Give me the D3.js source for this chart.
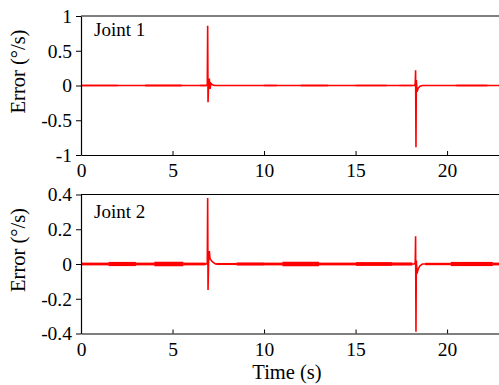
<html>
<head>
  <meta charset="utf-8" />
  <script src="https://cdnjs.cloudflare.com/ajax/libs/d3/7.8.5/d3.min.js"></script>
  <style>
    body { margin: 0; background: #fff; }
    text { font-family: "Liberation Serif", "Times New Roman", serif; fill: #000; }
    .domain { stroke: #000; stroke-width: 1.2; }
    .tick line { stroke: #000; }
  </style>
</head>
<body>
  <svg></svg>
  <script>
    // x ticks shared by both panels
    var timeTicks = [0, 5, 10, 15, 20]

    // joint 1 : error signal around the two transients (t in s, error in deg/s)
    var joint1Signal = [
      [0, 0], [6.86, 0], [6.90, 0.02], [6.92, 0.86], [6.94, -0.24], [6.97, 0.02],
      [7.01, 0.10], [7.05, -0.05], [7.10, 0.03], [7.18, 0.01], [7.3, 0],
      [18.22, 0], [18.26, 0.03], [18.28, 0.22], [18.30, -0.89], [18.32, 0.08],
      [18.36, -0.09], [18.42, -0.04], [18.52, -0.01], [18.65, 0], [23, 0]
    ]
    // joint 1 : noise envelope [from, to, half amplitude]
    var joint1Noise = [
      [0, 2, 0.011], [2, 3.5, 0.005], [3.5, 5.5, 0.013], [5.5, 6.5, 0.005],
      [6.5, 6.85, 0.011], [7.3, 10, 0.004], [10, 10.7, 0.011], [10.7, 12, 0.005],
      [12, 13.5, 0.012], [13.5, 15, 0.005], [15, 16.7, 0.011], [16.7, 17.4, 0.005],
      [17.4, 18.1, 0.010], [18.8, 20.5, 0.004], [20.5, 22.2, 0.012], [22.2, 23, 0.005]
    ]
    var joint1Ticks = [-1, -0.5, 0, 0.5, 1]

    // joint 2
    var joint2Signal = [
      [0, 0], [6.86, 0], [6.90, 0.01], [6.92, 0.38], [6.94, -0.15], [6.97, 0.01],
      [7.01, 0.075], [7.05, 0.03], [7.12, 0.02], [7.2, 0.01], [7.35, 0],
      [18.22, 0], [18.26, 0.01], [18.28, 0.16], [18.30, -0.39], [18.32, 0.02],
      [18.36, -0.055], [18.42, -0.03], [18.52, -0.01], [18.65, 0], [23, 0]
    ]
    var joint2Noise = [
      [0, 1.5, 0.008], [1.5, 3, 0.012], [3, 4, 0.008], [4, 5.6, 0.013],
      [5.6, 6.8, 0.008], [7.4, 8.5, 0.006], [8.5, 10, 0.009], [10, 11, 0.008],
      [11, 13, 0.013], [13, 15, 0.008], [15, 17, 0.011], [17, 18.1, 0.009],
      [18.8, 20.2, 0.007], [20.2, 22.5, 0.012], [22.5, 23, 0.008]
    ]
    var joint2Ticks = [-0.4, -0.2, 0, 0.2, 0.4]

    // plain hyphen, no trailing zeros ("0", "0.5", "-0.2")
    var fmt = d => String(+d.toFixed(2))

    var panels = [
      { name: "Joint 1", signal: joint1Signal, noise: joint1Noise, ticks: joint1Ticks, dom: [-1, 1], top: 16, nameY: 20 },
      { name: "Joint 2", signal: joint2Signal, noise: joint2Noise, ticks: joint2Ticks, dom: [-0.4, 0.4], top: 194.5, nameY: 23 }
    ]

    var W = 499, H = 385
    var left = 81, right = 502, ph = 139

    var svg = d3.select("svg").attr("width", W).attr("height", H)

    svg.append("clipPath").attr("id", "clip")
      .append("rect").attr("x", 0).attr("y", -2).attr("width", W - left).attr("height", ph + 4)

    var xScale = d3.scaleLinear().domain([0, 23]).range([0, right - left])

    panels.forEach(function(p) {
      var g = svg.append("g").attr("transform", "translate(" + left + "," + p.top + ")")
      var yScale = d3.scaleLinear().domain(p.dom).range([ph, 0])

      var plot = g.append("g").attr("clip-path", "url(#clip)")

      plot.selectAll("rect.noise")
        .data(p.noise)
        .enter()
        .append("rect")
          .attr("class", "noise")
          .attr("x", d => xScale(d[0]))
          .attr("width", d => xScale(d[1]) - xScale(d[0]))
          .attr("y", d => yScale(d[2]))
          .attr("height", d => yScale(-d[2]) - yScale(d[2]))
          .style("fill", "#ff0000")

      var line = d3.line().x(d => xScale(d[0])).y(d => yScale(d[1]))
      plot.append("path")
        .datum(p.signal)
        .attr("d", line)
        .style("fill", "none")
        .style("stroke", "#ff0000")
        .style("stroke-width", 1.6)

      var yAxis = d3.axisLeft(yScale).tickValues(p.ticks).tickSize(5).tickSizeOuter(0).tickFormat(fmt)
      g.append("g").call(yAxis)
        .selectAll("text").style("font-size", "19.5px").attr("dx", "-1")

      var xAxis = d3.axisBottom(xScale).tickValues(timeTicks).tickSizeInner(-4).tickSizeOuter(0).tickPadding(5)
      g.append("g").attr("transform", "translate(0," + ph + ")").call(xAxis)
        .selectAll("text").style("font-size", "19.5px").attr("dy", "0.88em")

      // top frame line
      g.append("line")
        .attr("x1", 0).attr("x2", right - left)
        .attr("y1", 0).attr("y2", 0)
        .style("stroke", "#000").style("stroke-width", 1.2)

      g.append("text")
        .attr("x", 13).attr("y", p.nameY)
        .style("font-size", "19px")
        .text(p.name)

      g.append("text")
        .attr("transform", "translate(-56," + (ph / 2 - 14) + ") rotate(-90)")
        .attr("text-anchor", "middle")
        .style("font-size", "20.5px")
        .text("Error (°/s)")
    })

    svg.append("text")
      .attr("x", 287).attr("y", 379)
      .attr("text-anchor", "middle")
      .style("font-size", "20.5px")
      .text("Time (s)")
  </script>
</body>
</html>
